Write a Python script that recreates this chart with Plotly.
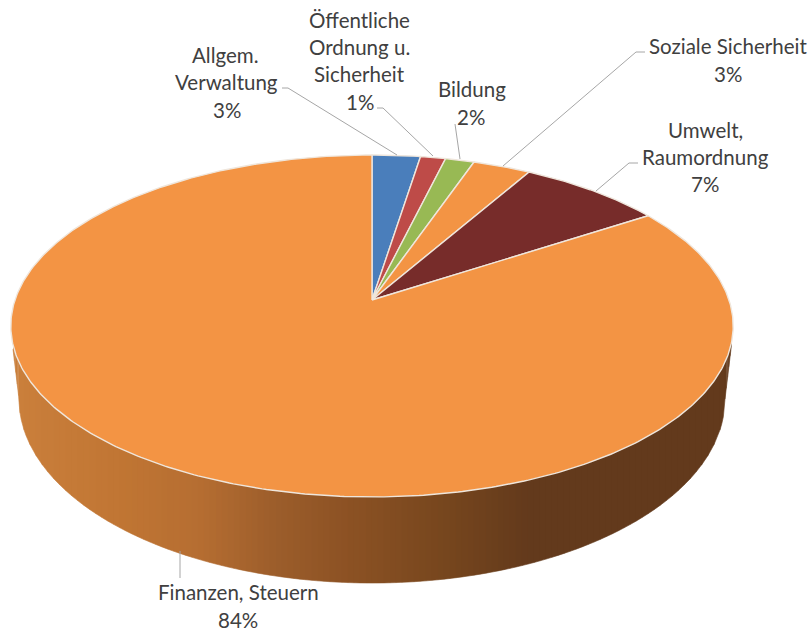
import numpy as np
import plotly.graph_objects as go

# ---- data (clockwise from 12 o'clock) ----
categories = ["Allgem. Verwaltung", "Öffentliche Ordnung u. Sicherheit", "Bildung",
              "Soziale Sicherheit", "Umwelt, Raumordnung", "Finanzen, Steuern"]
values = [2.5, 1.3, 1.5, 3.0, 7.5, 84.2]
percent_labels = ["3%", "1%", "2%", "3%", "7%", "84%"]
colors = ["#4A7EBB", "#BE4B48", "#98B954", "#F39444", "#772C2A", "#F39444"]

# ---- tilted-disc projection (pixel space) ----
APEX_X, APEX_Y, B, A, K = 372, 300, 357, 167, 0.152
E_CY, E_RX, E_RY = 326, 361, 171
BOT_CY, BOT_RX, BOT_RY = 399, 353, 184
RIM = "#EFE6DC"


def rim_point(phi):
    w = 1 + K * np.cos(phi)
    return APEX_X + B * np.sin(phi) / w, APEX_Y - A * np.cos(phi) / w


fig = go.Figure()

# side wall of the disc, as a horizontal shading
stop_x = [12, 120, 200, 270, 350, 450, 530, 733]
stop_r = [203, 193, 182, 158, 140, 118, 99, 99]
stop_g = [128, 118, 110, 95, 82, 70, 58, 58]
stop_b = [60, 52, 50, 44, 36, 30, 28, 28]
xs = np.concatenate([np.linspace(13, 20, 6), np.arange(24, 725, 6), np.linspace(725, 731.5, 6)])


def wall_bottom(x):
    inner = np.clip((x - APEX_X) / BOT_RX, -1, 1)
    y = BOT_CY + BOT_RY * np.sqrt(1 - inner ** 2)
    dist = np.abs(x - APEX_X)
    # outer corners: straight edge from the rim down to the lower ellipse
    edge = BOT_CY - (dist - BOT_RX) * (BOT_CY - 345) / (E_RX - 1.5 - BOT_RX)
    return np.where(dist > BOT_RX, edge, y)


def wall_top(x):
    inner = np.clip((x - APEX_X) / E_RX, -1, 1)
    return E_CY + E_RY * np.sqrt(1 - inner ** 2) - 4


for x0, x1 in zip(xs[:-1], xs[1:]):
    seg = np.linspace(x0, x1, 4)
    xm = (x0 + x1) / 2
    col = "rgb(%d,%d,%d)" % (np.interp(xm, stop_x, stop_r), np.interp(xm, stop_x, stop_g), np.interp(xm, stop_x, stop_b))
    yt = wall_top(seg)
    yb = wall_bottom(seg)
    fig.add_trace(go.Scatter(
        x=list(seg) + list(seg[::-1]), y=list(yt) + list(yb[::-1]),
        mode="lines", fill="toself", fillcolor=col,
        line=dict(color=col, width=0.6), hoverinfo="skip", showlegend=False))

# top face slices
total = sum(values)
start = 0.0
for name, v, col in zip(categories, values, colors):
    sweep = v / total * 2 * np.pi
    phi = np.linspace(start, start + sweep, max(8, int(v * 6)))
    px, py = rim_point(phi)
    fig.add_trace(go.Scatter(
        x=[APEX_X] + list(px) + [APEX_X], y=[APEX_Y] + list(py) + [APEX_Y],
        mode="lines", fill="toself", fillcolor=col,
        line=dict(color=RIM, width=1.4), name=name, showlegend=False, hoverinfo="name"))
    start += sweep

# label lines: text, centre x, centre y
label_lines = [
    ("Allgem.", 225, 55), ("Verwaltung", 226, 82), (percent_labels[0], 227, 110),
    ("Öffentliche", 359, 20), ("Ordnung u.", 359, 47), ("Sicherheit", 359, 74), (percent_labels[1], 360, 102),
    ("Bildung", 472, 89), (percent_labels[2], 471, 117),
    ("Soziale Sicherheit", 728, 46), (percent_labels[3], 728, 74),
    ("Umwelt,", 705, 130), ("Raumordnung", 705, 157), (percent_labels[4], 705, 184),
    ("Finanzen, Steuern", 238, 592), (percent_labels[5], 238, 620),
]
annotations = [dict(text=t, x=x, y=y, xref="x", yref="y", xanchor="center", yanchor="middle",
                    showarrow=False, font=dict(family="Lato", size=20.5, color="#404040"))
               for t, x, y in label_lines]

# leader lines
leaders = [
    ([282, 288, 397], [88, 88, 155]),
    ([377, 383, 433], [108, 108, 156]),
    ([455, 460], [124, 159]),
    ([645, 636, 503], [52, 52, 166]),
    ([638, 629, 596], [163, 163, 191]),
    ([180, 180], [551, 578]),
]
for lx, ly in leaders:
    fig.add_trace(go.Scatter(x=lx, y=ly, mode="lines", line=dict(color="#A6A6A6", width=1),
                             hoverinfo="skip", showlegend=False))

fig.update_layout(
    width=809, height=632, margin=dict(l=0, r=0, t=0, b=0),
    paper_bgcolor="white", plot_bgcolor="white", annotations=annotations,
    xaxis=dict(range=[0, 809], visible=False, fixedrange=True),
    yaxis=dict(range=[632, 0], visible=False, fixedrange=True),
    showlegend=False,
)
fig.write_html("out.html", config=dict(displayModeBar=False),
               post_script="document.body.style.margin='0';document.body.style.overflow='hidden';")
